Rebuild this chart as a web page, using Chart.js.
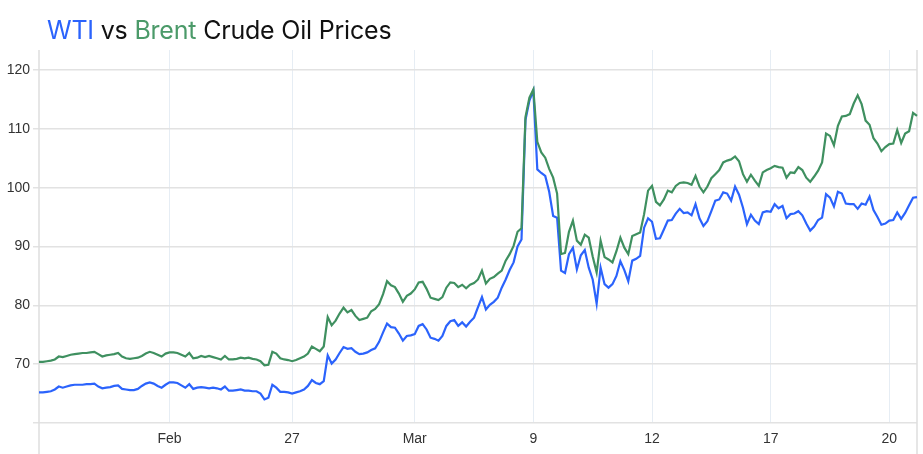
<!DOCTYPE html>
<html>
<head>
<meta charset="utf-8">
<script src="https://cdn.jsdelivr.net/npm/chart.js@4.4.1/dist/chart.umd.min.js"></script>
<style>
  html, body { margin: 0; padding: 0; background: #fff; }
  #wrap { position: relative; width: 923px; height: 454px; overflow: hidden; }
  #title { position: absolute; left: 47px; top: 15px; font-family: Inter, "Noto Sans", sans-serif; font-size: 25px; line-height: 30px; color: #111; white-space: nowrap; letter-spacing: -0.2px; }
  #title .wti { color: #2b63fc; }
  #title .brent { color: #4b9a69; }
  canvas { position: absolute; left: 0; top: 0; }
</style>
</head>
<body>
<div id="wrap">
  <canvas id="c" width="923" height="454"></canvas>
  <div id="title"><span class="wti">WTI</span> vs <span class="brent">Brent</span> Crude Oil Prices</div>
</div>
<script>
const brent = [
  70.4, 70.4, 70.5, 70.6, 70.8, 71.3, 71.2, 71.4, 71.6, 71.7,
  71.8, 71.9, 71.9, 72.0, 72.1, 71.7, 71.3, 71.5, 71.6, 71.7,
  71.9, 71.3, 71.0, 70.9, 71.0, 71.1, 71.4, 71.8, 72.1, 71.9,
  71.6, 71.3, 71.8, 72.0, 72.0, 71.9, 71.6, 71.3, 71.9, 71.0,
  71.1, 71.4, 71.2, 71.4, 71.2, 71.0, 70.8, 71.4, 70.8, 70.8,
  70.9, 71.1, 71.0, 71.1, 70.9, 70.8, 70.5, 69.8, 69.9, 72.1,
  71.8, 71.0, 70.8, 70.7, 70.5, 70.7, 71.0, 71.3, 71.8, 73.0,
  72.6, 72.2, 73.0, 78.0, 76.6, 77.4, 78.6, 79.6, 78.8, 79.2,
  78.2, 77.5, 77.7, 77.9, 79.0, 79.4, 80.2, 81.9, 84.1, 83.4,
  83.1, 82.0, 80.6, 81.6, 82.0, 82.7, 83.9, 84.0, 82.8, 81.3,
  81.1, 80.9, 81.4, 83.0, 83.9, 83.8, 83.1, 83.5, 82.9, 83.5,
  83.8, 84.4, 85.9, 83.7, 84.5, 84.8, 85.4, 85.9, 87.6, 88.7,
  90.1, 92.5, 93.1, 112.0, 115.3, 116.7, 107.8, 106.0, 105.1, 103.2,
  101.7, 99.0, 88.7, 88.9, 92.5, 94.4, 91.0, 90.3, 92.0, 91.5,
  88.3, 85.6, 91.0, 88.2, 87.8, 87.3, 89.2, 91.5, 89.8, 88.7,
  91.8, 92.1, 92.4, 95.5, 99.5, 100.3, 97.6, 97.0, 98.0, 99.5,
  99.2, 100.3, 100.8, 100.9, 100.8, 100.5, 102.0, 100.2, 99.2, 100.2,
  101.6, 102.3, 103.0, 104.3, 104.6, 104.8, 105.3, 104.5, 102.3, 101.0,
  102.2, 101.2, 100.3, 102.6, 103.0, 103.3, 103.7, 103.5, 103.4, 101.7,
  102.6, 102.5, 103.5, 103.0, 101.7, 101.0, 101.9, 102.9, 104.3, 109.2,
  108.8, 107.2, 110.5, 112.1, 112.2, 112.5, 114.3, 115.7, 114.2, 111.4,
  110.7, 108.4, 107.5, 106.2, 106.9, 107.4, 107.5, 109.8, 107.6, 109.2,
  109.6, 112.7, 112.2
];
const wti = [
  65.2, 65.2, 65.3, 65.4, 65.7, 66.2, 66.0, 66.2, 66.4, 66.5,
  66.5, 66.5, 66.6, 66.6, 66.7, 66.2, 65.9, 66.0, 66.1, 66.3,
  66.4, 65.8, 65.7, 65.6, 65.6, 65.8, 66.3, 66.7, 66.9, 66.7,
  66.3, 66.0, 66.5, 66.9, 66.9, 66.8, 66.4, 66.0, 66.6, 65.8,
  66.0, 66.1, 66.0, 65.9, 66.0, 65.9, 65.7, 66.2, 65.5, 65.5,
  65.6, 65.7, 65.5, 65.5, 65.4, 65.4, 65.0, 64.0, 64.3, 66.5,
  66.0, 65.3, 65.3, 65.2, 65.0, 65.2, 65.4, 65.7, 66.3, 67.3,
  66.8, 66.6, 67.1, 71.5, 70.1, 70.8, 71.9, 72.9, 72.6, 72.7,
  72.1, 71.7, 71.8, 72.0, 72.4, 72.7, 73.8, 75.4, 76.9, 76.3,
  76.2, 75.2, 74.0, 74.8, 74.9, 75.1, 76.5, 76.8, 75.9, 74.5,
  74.3, 74.0, 74.8, 76.5, 77.3, 77.5, 76.5, 77.1, 76.4, 77.2,
  77.9, 79.7, 81.4, 79.3, 80.1, 80.6, 81.3, 83.0, 84.4, 86.0,
  87.3, 90.0, 91.2, 111.5, 114.8, 116.5, 103.1, 102.5, 102.0, 99.3,
  95.2, 94.9, 85.9, 85.5, 88.7, 89.8, 86.1, 88.5, 89.4, 86.4,
  84.4, 80.3, 86.4, 83.6, 83.0, 83.6, 85.0, 87.5, 86.0, 84.1,
  87.6, 87.9, 88.4, 93.2, 94.8, 94.2, 91.3, 91.4, 92.9, 94.4,
  94.5, 95.6, 96.4, 95.7, 95.8, 95.3, 97.2, 94.8, 93.5, 94.3,
  96.0, 97.8, 98.0, 99.2, 99.0, 97.8, 100.2, 98.8, 96.6, 93.8,
  95.4, 94.4, 93.8, 95.8, 96.0, 95.9, 97.2, 96.5, 96.9, 94.8,
  95.5, 95.6, 96.0, 95.3, 93.9, 92.7, 93.4, 94.5, 94.9, 98.9,
  98.3, 96.8, 99.3, 99.0, 97.3, 97.2, 97.2, 96.4, 97.3, 97.1,
  98.5, 96.2, 95.0, 93.7, 93.9, 94.4, 94.5, 95.8, 94.7, 95.7,
  97.0, 98.3, 98.4
];
const tickLabels = ['Feb', '27', 'Mar', '9', '12', '17', '20'];
const tickIndex = [33, 64, 95, 125, 155, 185, 215];
const yTicks = [60, 70, 80, 90, 100, 110, 120];

const categories = wti.map((_, i) => String(i));

const edgeLines = {
  id: 'edgeLines',
  beforeDatasetsDraw(chart) {
    const { ctx, chartArea } = chart;
    ctx.save();
    ctx.strokeStyle = '#dedede';
    ctx.lineWidth = 1.5;
    ctx.beginPath();
    ctx.moveTo(chartArea.left, chartArea.top);
    ctx.lineTo(chartArea.left, chart.height);
    ctx.moveTo(chartArea.right, chartArea.top);
    ctx.lineTo(chartArea.right, chart.height);
    ctx.stroke();
    ctx.restore();
  }
};

new Chart(document.getElementById('c'), {
  type: 'line',
  data: {
    labels: categories,
    datasets: [
      { label: 'Brent', data: brent, borderColor: '#3f9060', borderWidth: 2.2, pointRadius: 0, tension: 0 },
      { label: 'WTI', data: wti, borderColor: '#2b63fc', borderWidth: 2.2, pointRadius: 0, tension: 0 }
    ]
  },
  options: {
    responsive: false,
    animation: false,
    devicePixelRatio: 1,
    layout: { padding: { top: 50, right: 6, left: 0, bottom: 0 } },
    plugins: { legend: { display: false }, title: { display: false }, tooltip: { enabled: false } },
    scales: {
      x: {
        type: 'category',
        offset: false,
        afterBuildTicks(scale) { scale.ticks = tickIndex.map(v => ({ value: v })); },
        afterFit(scale) { scale.height = 31; },
        ticks: {
          autoSkip: false, maxRotation: 0, padding: 8, color: '#333',
          font: { family: 'Liberation Sans, Arial, sans-serif', size: 14 },
          callback: (v) => tickLabels[tickIndex.indexOf(v)]
        },
        grid: { color: '#e6edf4', lineWidth: 1, drawTicks: false },
        border: { display: false }
      },
      y: {
        min: 60, max: 123.4,
        afterBuildTicks(scale) { scale.ticks = yTicks.map(v => ({ value: v })); },
        afterFit(scale) { scale.width = 39; },
        ticks: {
          padding: 3, color: '#333',
          font: { family: 'Liberation Sans, Arial, sans-serif', size: 14 },
          callback: (v) => v === 60 ? '' : String(v)
        },
        grid: { color: '#e2e2e2', lineWidth: 1.5, tickLength: 6, drawTicks: true },
        border: { display: false }
      }
    }
  },
  plugins: [edgeLines]
});
</script>
</body>
</html>
